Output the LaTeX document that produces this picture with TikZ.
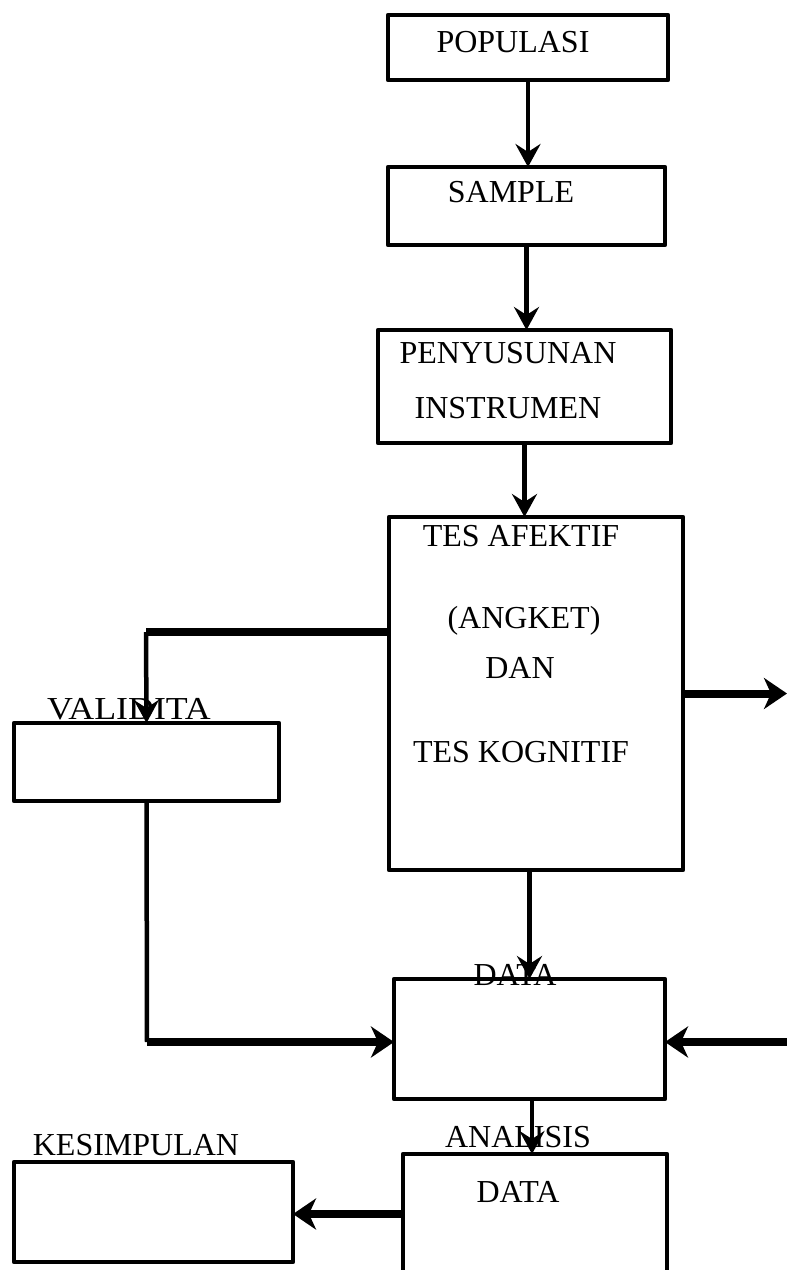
\documentclass[tikz,border=0pt]{standalone}
\usepackage{fontspec}
\setmainfont{Liberation Serif}
\usetikzlibrary{arrows.meta}
\usetikzlibrary{calc}

\tikzset{
  box/.style={draw, line width=4.5pt, line join=round, inner sep=0pt, outer sep=0pt},
  lbl/.style={anchor=base, inner sep=0pt, font=\fontsize{32}{38}\selectfont},
  arr/.style={line width=4.5pt, -{Stealth[length=23pt,width=25pt,inset=8pt]}},
  thickline/.style={line width=8pt},
  thickarr/.style={line width=8pt, -{Stealth[length=23pt,width=31pt,inset=7pt]}}
}

\begin{document}
\begin{tikzpicture}[x=1pt, y=-1pt]
      \useasboundingbox (0,0) rectangle (787,1270);

      % Boxes of the flow
      \node[box, minimum width=280pt, minimum height=65pt]  (pop)   at (528,47.5)   {};
      \node[box, minimum width=277pt, minimum height=78pt]  (samp)  at (526.5,206)  {};
      \node[box, minimum width=293pt, minimum height=113pt] (instr) at (524.5,386.5) {};
      \node[box, minimum width=294pt, minimum height=353pt] (tes)   at (536,693.5)  {};
      \node[box, minimum width=265pt, minimum height=78pt]  (valid) at (146.5,762)  {};
      \node[box, minimum width=271pt, minimum height=120pt] (data)  at (529.5,1039) {};
      \node[box, minimum width=279pt, minimum height=100pt] (kes)   at (153.5,1212) {};
      % analysis box runs off the page at the bottom
      \draw[line width=4.5pt, line join=round] (403,1280) -- (403,1154) coordinate (anaw)
        -- (667,1154) coordinate (anae) -- (667,1280);

      % Texts
      \node[lbl] (tpop)   at (513,52)   {POPULASI};
      \node[lbl] (tsamp)  at (511,202)  {SAMPLE};
      \node[lbl] (tpen)   at (508,363)  {PENYUSUNAN};
      \node[lbl] (tins)   at (508,418)  {INSTRUMEN};
      \node[lbl] (tafek)  at (521,546)  {TES AFEKTIF};
      \node[lbl] (tang)   at (524,628)  {(ANGKET)};
      \node[lbl] (tdan)   at (520,678)  {DAN};
      \node[lbl] (tkog)   at (521,762)  {TES KOGNITIF};
      \node[lbl, xscale=1.12] (tval) at (129,719) {VALIDITA};
      \node[lbl] (tdata)  at (515,985)  {DATA};
      \node[lbl] (tana)   at (518,1147) {ANALISIS};
      \node[lbl] (tadata) at (518,1202) {DATA};
      \node[lbl] (tkes)   at (136,1155) {KESIMPULAN};

      % Arrows down the middle
      \draw[arr] (pop.south) -- (pop.south |- samp.north);
      \draw[arr] (samp.south) -- (samp.south |- instr.north);
      \draw[arr] (instr.south) -- (instr.south |- tes.north);
      \draw[arr] (data.north |- tes.south) -- (data.north);
      \draw[arr] (532,1099) -- (532,1154);

      % Branch to validity and back to data
      \coordinate (vtop) at (146,632);
      \coordinate (vbot) at (147,1042);
      \draw[thickline] (tes.west |- vtop) -- (vtop);
      \draw[arr] (vtop) -- (valid.north);
      \draw[line width=4.5pt] (valid.south) -- (vbot);
      \draw[thickarr] (vbot) -- (data.west |- vbot);

      % Right side arrows
      \coordinate (outr) at (787,693.5);
      \coordinate (inr) at (787,1042);
      \draw[thickarr] (tes.east) -- (outr);
      \draw[thickarr] (inr) -- (data.east |- inr);

      % Analysis to conclusion
      \draw[thickarr] (anaw |- 0,1214) -- (kes.east |- 0,1214);
\end{tikzpicture}
\end{document}
